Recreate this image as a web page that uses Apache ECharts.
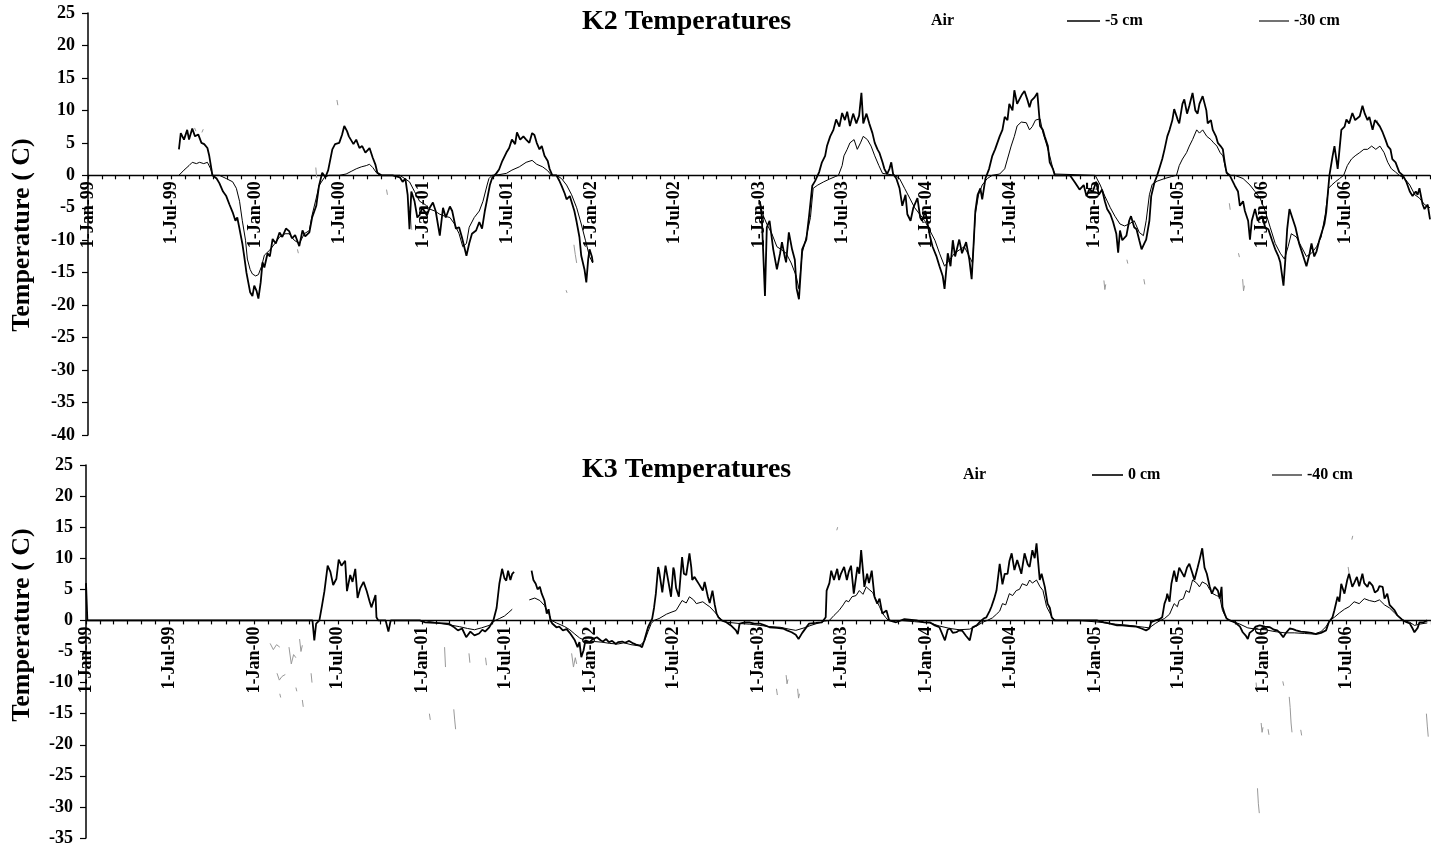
<!DOCTYPE html>
<html>
<head>
<meta charset="utf-8">
<title>K2 / K3 Temperatures</title>
<script src="https://cdn.jsdelivr.net/npm/echarts@6/dist/echarts.min.js"></script>
<style>
  html, body { margin: 0; padding: 0; background: #fff; }
  #chart { width: 1431px; height: 851px; }
</style>
</head>
<body>
<div id="chart"></div>
<script>
// ---------- K2 site: daily soil temperatures (°C), null = logger gap ----------
const k2Soil5 = [
['1999-07-18',4],['1999-07-22',6.5],['1999-07-29',5.5],['1999-08-05',7],['1999-08-09',5.5],['1999-08-16',7.2],['1999-08-22',6],['1999-08-29',6.3],['1999-09-05',5],['1999-09-11',4.8],['1999-09-18',4.2],['1999-09-22',3],['1999-09-29',0],
['1999-10-08',-0.5],['1999-10-14',-1.2],['1999-10-22',-2.5],['1999-10-29',-3.2],['1999-11-05',-4.5],['1999-11-12',-5.7],['1999-11-18',-7],['1999-11-22',-6.5],['1999-11-27',-8.3],['1999-12-03',-10.5],['1999-12-07',-12.4],['1999-12-12',-15],['1999-12-16',-16.5],['1999-12-20',-18],['1999-12-25',-18.6],['1999-12-29',-17],
['2000-01-03',-17.8],['2000-01-07',-19],['2000-01-12',-16.5],['2000-01-16',-13.4],['2000-01-20',-14.2],['2000-01-27',-12],['2000-02-01',-12.5],['2000-02-07',-9.8],['2000-02-14',-10.5],['2000-02-22',-8.8],['2000-02-28',-9.5],['2000-03-07',-8.2],['2000-03-14',-8.6],['2000-03-20',-9.7],['2000-03-27',-9.2],['2000-04-05',-10.9],['2000-04-12',-8.5],['2000-04-18',-9.4],['2000-04-27',-8.8],['2000-05-03',-6.5],['2000-05-12',-4.7],['2000-05-18',-1.6],['2000-05-25',0.4],['2000-06-01',-0.3],['2000-06-07',0.8],['2000-06-16',4],['2000-06-22',4.8],['2000-07-01',5],['2000-07-07',6.2],['2000-07-12',7.6],['2000-07-18',6.8],['2000-07-22',6],['2000-08-01',4.8],['2000-08-07',5.5],['2000-08-14',4.2],['2000-08-20',4.5],['2000-08-27',3.5],['2000-09-05',4.2],['2000-09-12',2.7],['2000-09-18',1.6],['2000-09-22',0.4],['2000-10-01',0],
['2000-10-25',0],['2000-11-10',-0.3],['2000-11-16',-1],['2000-11-22',-0.5],['2000-11-27',-3],['2000-12-01',-8.3],['2000-12-05',-2.5],['2000-12-12',-4],['2000-12-18',-6.5],['2000-12-23',-6.1],['2000-12-29',-5],
['2001-01-08',-6.2],['2001-01-14',-5],['2001-01-21',-4.2],['2001-01-27',-5.5],['2001-02-05',-9.3],['2001-02-12',-5],['2001-02-18',-6.5],['2001-02-27',-4.8],['2001-03-04',-5.5],['2001-03-12',-8.2],['2001-03-19',-8],['2001-03-25',-9.5],['2001-04-04',-12.4],['2001-04-10',-10.5],['2001-04-16',-9],['2001-04-25',-8.5],['2001-05-02',-7.2],['2001-05-08',-8.2],['2001-05-14',-5.5],['2001-05-19',-3.7],['2001-05-25',-1.5],['2001-05-30',-0.4],['2001-06-08',0.3],['2001-06-14',0.9],['2001-06-21',2.2],['2001-06-30',3.5],['2001-07-06',4.2],['2001-07-12',5.5],['2001-07-19',4.8],['2001-07-23',6.6],['2001-07-30',5.5],['2001-08-06',6],['2001-08-12',5.5],['2001-08-19',5],['2001-08-25',6.5],['2001-08-30',6.2],['2001-09-04',5],['2001-09-10',4],['2001-09-15',4.5],['2001-09-21',3],['2001-09-28',2.2],['2001-10-02',1],['2001-10-08',0],
['2001-10-17',0],['2001-10-23',-0.8],['2001-10-28',-1.6],['2001-11-04',-2.8],['2001-11-08',-3.7],['2001-11-15',-3.2],['2001-11-19',-4.1],['2001-11-25',-5.5],['2001-11-30',-7.2],['2001-12-06',-9.5],['2001-12-10',-12.4],['2001-12-17',-14.5],['2001-12-21',-16.5],['2001-12-25',-13],['2001-12-28',-11.4],['2002-01-02',-12.5],['2002-01-04',-13.4],
null,
['2003-01-03',-4],['2003-01-07',-6.3],['2003-01-14',-18.6],['2003-01-18',-8],['2003-01-24',-7],['2003-02-01',-11.4],['2003-02-09',-14.5],['2003-02-16',-12],['2003-02-20',-10.3],['2003-02-26',-12.5],['2003-03-01',-13.4],['2003-03-07',-8.8],['2003-03-14',-11.4],['2003-03-20',-13],['2003-03-24',-17.5],['2003-03-29',-19.1],['2003-04-05',-11.4],['2003-04-14',-9.9],['2003-04-20',-6.3],['2003-04-27',-1.6],['2003-05-03',-0.9],['2003-05-12',0.5],['2003-05-18',2],['2003-05-25',3],['2003-05-29',4.5],['2003-06-05',6],['2003-06-12',7],['2003-06-18',8.6],['2003-06-25',7.5],['2003-07-01',9.6],['2003-07-07',8.5],['2003-07-12',9.8],['2003-07-18',7.6],['2003-07-25',9.5],['2003-08-01',8],['2003-08-07',9.2],['2003-08-12',12.7],['2003-08-16',8],['2003-08-23',9.5],['2003-08-29',8],['2003-09-05',6.5],['2003-09-10',5],['2003-09-16',4],['2003-09-20',3.5],['2003-09-27',2],['2003-10-01',1],['2003-10-07',0.2],['2003-10-12',1],['2003-10-16',2],['2003-10-20',0.2],['2003-10-27',-0.5],['2003-11-03',-2],['2003-11-09',-4.7],['2003-11-16',-3],['2003-11-20',-6],['2003-11-27',-7],['2003-12-03',-5],['2003-12-12',-3.5],['2003-12-18',-6.5],['2003-12-22',-7],['2003-12-29',-5.5],
['2004-01-08',-9.3],['2004-01-14',-11],['2004-01-22',-12.4],['2004-01-29',-14],['2004-02-05',-15.5],['2004-02-09',-17.5],['2004-02-16',-12],['2004-02-22',-14],['2004-02-27',-10],['2004-03-03',-12.5],['2004-03-12',-9.9],['2004-03-18',-12],['2004-03-27',-10.3],['2004-04-03',-13],['2004-04-08',-16],['2004-04-12',-11],['2004-04-16',-5.5],['2004-04-21',-3],['2004-04-27',-2],['2004-05-01',-3.7],['2004-05-08',-0.5],['2004-05-16',1],['2004-05-23',3],['2004-05-29',4],['2004-06-08',6],['2004-06-14',7],['2004-06-19',9],['2004-06-25',8.5],['2004-06-29',11],['2004-07-06',10],['2004-07-10',13.1],['2004-07-16',11],['2004-07-21',11.7],['2004-07-27',12.5],['2004-08-01',13],['2004-08-08',11.5],['2004-08-12',10.5],['2004-08-16',11.5],['2004-08-23',12],['2004-08-29',12.7],['2004-09-04',7.6],['2004-09-10',7],['2004-09-14',6],['2004-09-21',4.5],['2004-09-25',2],['2004-10-02',1],['2004-10-06',0],
['2004-11-08',0],['2004-11-19',-1.1],['2004-11-29',-2.2],['2004-12-08',-1.5],['2004-12-14',-3.2],['2004-12-21',-2],['2004-12-27',-2.7],['2005-01-04',-1],['2005-01-10',-3],['2005-01-17',-2.2],['2005-01-23',-4],['2005-01-28',-5.2],['2005-02-04',-6],['2005-02-10',-7.2],['2005-02-17',-9],['2005-02-21',-11.9],['2005-02-25',-8.5],['2005-03-02',-10],['2005-03-11',-9.3],['2005-03-17',-7],['2005-03-21',-6.3],['2005-03-28',-8],['2005-04-02',-8.3],['2005-04-08',-10],['2005-04-13',-11.4],['2005-04-19',-10.5],['2005-04-23',-9.9],['2005-04-30',-7],['2005-05-04',-3.2],['2005-05-11',-1.1],['2005-05-17',0],['2005-05-21',0.9],['2005-05-28',2.5],['2005-06-02',4],['2005-06-08',6],['2005-06-13',7],['2005-06-19',8.5],['2005-06-23',10.2],['2005-07-01',8.5],['2005-07-04',8],['2005-07-11',11],['2005-07-15',11.7],['2005-07-21',9.5],['2005-07-26',10.7],['2005-08-02',12.7],['2005-08-08',10],['2005-08-13',9.5],['2005-08-17',11],['2005-08-24',12.2],['2005-09-01',10],['2005-09-04',8],['2005-09-11',8.5],['2005-09-15',7],['2005-09-22',6],['2005-09-26',5],['2005-10-02',4.5],['2005-10-07',4],['2005-10-11',2],['2005-10-15',0.4],['2005-10-22',0],
['2005-11-02',-1.6],['2005-11-09',-2.5],['2005-11-13',-4.7],['2005-11-20',-4],['2005-11-24',-5.5],['2005-12-01',-7],['2005-12-05',-9.9],['2005-12-09',-7],['2005-12-16',-5.2],['2005-12-22',-7],['2006-01-01',-6.3],['2006-01-07',-8],['2006-01-14',-8.3],['2006-01-22',-10],['2006-01-29',-11.4],['2006-02-05',-12.5],['2006-02-09',-13.4],['2006-02-16',-17],['2006-02-20',-13],['2006-02-24',-8.3],['2006-03-01',-5.2],['2006-03-07',-6.5],['2006-03-14',-8],['2006-03-22',-10.5],['2006-03-29',-12],['2006-04-07',-14],['2006-04-14',-12],['2006-04-18',-10.5],['2006-04-24',-12.5],['2006-04-29',-11.7],['2006-05-05',-10],['2006-05-09',-9.9],['2006-05-16',-7.5],['2006-05-20',-5.7],['2006-05-27',0],['2006-06-03',3],['2006-06-07',4.5],['2006-06-14',1],['2006-06-18',4],['2006-06-22',7],['2006-06-29',7.5],['2006-07-03',8.6],['2006-07-09',8],['2006-07-16',9.6],['2006-07-22',8.5],['2006-08-01',9.1],['2006-08-07',10.7],['2006-08-12',9.5],['2006-08-18',8.5],['2006-08-22',9],['2006-08-29',7],['2006-09-03',8.5],['2006-09-09',8],['2006-09-14',7.5],['2006-09-20',6.6],['2006-09-26',5.5],['2006-10-01',4.5],['2006-10-07',4],['2006-10-11',2.5],['2006-10-18',2],['2006-10-26',0.5],['2006-11-03',0],['2006-11-11',-1.1],['2006-11-18',-2.5],['2006-11-24',-3.2],['2006-12-01',-2.5],['2006-12-05',-3],['2006-12-09',-2],['2006-12-16',-4.5],['2006-12-20',-5.2],['2006-12-27',-4.5],['2007-01-01',-6.8]
];

const k2Soil30 = [
['1999-07-18',0],['1999-07-29',0.8],['1999-08-09',1.5],['1999-08-16',2],['1999-08-25',1.8],['1999-09-01',2],['1999-09-10',1.8],['1999-09-18',2],['1999-09-25',1],['1999-09-29',0],['1999-10-14',0],['1999-10-29',-0.5],['1999-11-12',-1],['1999-11-20',-2],['1999-11-27',-4],['1999-12-03',-7],['1999-12-10',-10],['1999-12-14',-12.9],['1999-12-20',-14.5],['1999-12-25',-15.2],
['2000-01-01',-15.5],['2000-01-07',-15.3],['2000-01-14',-14],['2000-01-20',-12.3],['2000-02-01',-11.5],['2000-02-12',-10.5],['2000-02-22',-9.5],['2000-03-05',-9],['2000-03-14',-9],['2000-03-25',-10],['2000-04-05',-10.5],['2000-04-16',-9],['2000-04-27',-8.5],['2000-05-03',-6.1],['2000-05-12',-3.5],['2000-05-18',-1.6],['2000-05-30',-0.3],['2000-06-09',0],['2000-07-01',0],['2000-07-16',0.2],['2000-07-27',0.6],['2000-08-07',1],['2000-08-18',1.3],['2000-08-29',1.5],['2000-09-05',1.7],['2000-09-12',1.2],['2000-09-20',0.4],['2000-09-27',0],['2000-11-10',0],['2000-12-01',-1],['2000-12-12',-2.5],['2000-12-23',-4],
['2001-01-04',-4.5],['2001-01-14',-5.2],['2001-01-25',-5.5],['2001-02-05',-6],['2001-02-16',-6.3],['2001-02-27',-6.5],['2001-03-09',-7.5],['2001-03-19',-9],['2001-03-27',-11],['2001-04-04',-10.5],['2001-04-10',-8],['2001-04-21',-6.5],['2001-05-02',-5.5],['2001-05-10',-4],['2001-05-19',-1.5],['2001-05-23',-0.5],['2001-05-30',0],['2001-06-14',0.1],['2001-06-30',0.3],['2001-07-12',0.8],['2001-07-28',1.3],['2001-08-12',2],['2001-08-25',2.3],['2001-09-04',1.7],['2001-09-17',1.3],['2001-09-28',0.7],['2001-10-06',0],['2001-10-17',0],['2001-10-28',-0.5],['2001-11-08',-1.5],['2001-11-19',-3],['2001-11-30',-5],['2001-12-10',-7.5],['2001-12-19',-10],['2001-12-28',-12.5],['2002-01-04',-13.5],
null,
['2003-01-03',-4],['2003-01-09',-6],['2003-01-18',-7.5],['2003-01-29',-9],['2003-02-09',-11],['2003-02-20',-11.5],['2003-03-01',-12],['2003-03-12',-13.5],['2003-03-23',-15.5],['2003-03-29',-17.5],['2003-04-05',-12],['2003-04-14',-9.5],['2003-04-23',-6.5],['2003-04-29',-2],['2003-05-09',-1.5],['2003-05-22',-1],['2003-06-03',-0.6],['2003-06-16',-0.2],['2003-06-23',0],['2003-07-01',1.5],['2003-07-05',3],['2003-07-12',4],['2003-07-18',5],['2003-07-27',5.5],['2003-08-03',4],['2003-08-10',5],['2003-08-16',6],['2003-08-25',5.5],['2003-09-02',4.5],['2003-09-10',3],['2003-09-19',1.5],['2003-09-27',0.3],['2003-10-01',0],['2003-10-24',0],['2003-11-03',-0.5],['2003-11-14',-2],['2003-11-25',-3.5],['2003-12-06',-5],['2003-12-17',-6],['2003-12-28',-7],
['2004-01-08',-8.5],['2004-01-19',-10],['2004-01-29',-12],['2004-02-09',-14],['2004-02-20',-13],['2004-03-02',-12],['2004-03-12',-11.5],['2004-03-23',-11],['2004-04-03',-12.5],['2004-04-10',-13.5],['2004-04-16',-6],['2004-04-23',-3],['2004-05-01',-1.5],['2004-05-12',-0.5],['2004-05-23',0],['2004-06-08',0.2],['2004-06-19',1],['2004-06-25',2.5],['2004-07-03',4.5],['2004-07-10',6],['2004-07-16',7.6],['2004-07-25',8.2],['2004-08-05',8.1],['2004-08-12',7],['2004-08-18',7.5],['2004-08-25',8.5],['2004-09-04',8.7],['2004-09-10',6.6],['2004-09-17',5],['2004-09-25',3],['2004-10-02',1],['2004-10-06',0.2],['2004-10-10',0],
['2005-01-02',0],['2005-01-13',-1.5],['2005-01-23',-3.2],['2005-02-04',-5],['2005-02-14',-6.3],['2005-02-25',-7.5],['2005-03-07',-7.8],['2005-03-17',-7.5],['2005-03-28',-7],['2005-04-08',-8.8],['2005-04-17',-9.3],['2005-04-23',-7],['2005-04-30',-3],['2005-05-06',-1.4],['2005-05-17',-0.9],['2005-06-02',-0.5],['2005-06-17',-0.2],['2005-06-28',0],['2005-07-04',1.5],['2005-07-11',2.5],['2005-07-20',3.5],['2005-07-26',4.5],['2005-08-02',5.5],['2005-08-11',7],['2005-08-17',6.5],['2005-08-24',7],['2005-09-02',6],['2005-09-11',5.5],['2005-09-17',5],['2005-09-24',4.5],['2005-10-01',3.5],['2005-10-07',3],['2005-10-13',1],['2005-10-18',0],
['2005-11-02',0],['2005-11-20',-0.5],['2005-12-05',-1.5],['2005-12-16',-2.5],['2005-12-27',-3.5],['2006-01-07',-5.5],['2006-01-18',-8],['2006-01-29',-10.5],['2006-02-09',-12],['2006-02-18',-12.9],['2006-02-26',-11],['2006-03-05',-9],['2006-03-16',-9.5],['2006-03-27',-11],['2006-04-07',-12.5],['2006-04-18',-12],['2006-04-29',-11],['2006-05-09',-9.5],['2006-05-18',-6],['2006-05-25',-2],['2006-06-01',-1.5],['2006-06-09',-1],['2006-06-18',-0.5],['2006-06-27',0],['2006-07-05',1.5],['2006-07-14',2.5],['2006-07-22',3],['2006-08-01',3.5],['2006-08-10',4],['2006-08-18',4],['2006-08-27',4.5],['2006-09-05',4],['2006-09-14',4.5],['2006-09-23',3.5],['2006-10-01',2],['2006-10-09',1],['2006-10-18',0.5],['2006-10-26',0],['2006-11-07',-0.5],['2006-11-18',-1.5],['2006-11-29',-3],['2006-12-09',-3.5],['2006-12-20',-4.5],['2007-01-01',-5]
];

// K2 air sensor: only scattered short records survive
const k2Air = [
['1999-08-21',7.3],['1999-08-24',6.8],null,['1999-09-06',6.6],['1999-09-09',7.1],null,
['2000-04-01',-11.4],['2000-04-03',-12],null,['2000-05-11',1.2],['2000-05-13',-0.4],null,
['2000-06-26',11.6],['2000-06-28',10.8],null,['2000-10-12',-2.2],['2000-10-14',-3],null,
['2000-12-02',-4.8],['2000-12-04',-7],['2000-12-06',-8.4],null,
['2001-11-07',-17.7],['2001-11-09',-18.1],null,['2001-11-24',-10.7],['2001-11-27',-12.2],['2001-11-30',-13.5],null,
['2005-01-21',-16.2],['2005-01-23',-17.6],['2005-01-25',-16.8],null,['2005-03-12',-13],['2005-03-14',-13.6],null,
['2005-04-18',-16],['2005-04-20',-16.8],null,['2005-10-21',-4.3],['2005-10-23',-5.3],null,
['2005-11-10',-12],['2005-11-12',-12.6],null,['2005-11-19',-16],['2005-11-21',-17.8],['2005-11-23',-17],null,
['2006-09-08',8.5],['2006-09-10',7.7]
];

// ---------- K3 site ----------
const k3Soil0 = [
['1999-01-01',6],['1999-01-04',0],['2000-05-07',0],['2000-05-11',-3.2],['2000-05-15',-0.5],['2000-05-22',0],['2000-05-28',2.5],['2000-06-02',4.7],['2000-06-09',8.8],['2000-06-15',7.8],['2000-06-21',5.7],['2000-06-28',6.7],['2000-07-03',9.8],['2000-07-09',8.8],['2000-07-17',9.6],['2000-07-21',4.7],['2000-07-28',7.3],['2000-08-02',6.2],['2000-08-08',8.3],['2000-08-13',3.6],['2000-08-19',5.2],['2000-08-26',6.2],['2000-09-02',4.7],['2000-09-08',3.1],['2000-09-12',2.1],['2000-09-21',4.1],['2000-09-23',0.5],['2000-09-27',0],
['2000-10-13',0],['2000-10-19',-1.8],['2000-10-24',0],['2000-12-26',0],['2001-01-07',-0.3],['2001-01-28',-0.4],['2001-02-26',-0.5],['2001-03-09',-1],['2001-03-19',-1.6],['2001-03-28',-1.3],['2001-04-06',-2.7],['2001-04-15',-1.8],['2001-04-24',-2.4],['2001-05-04',-2.1],['2001-05-11',-1.5],['2001-05-17',-1.8],['2001-05-26',-1.1],['2001-06-04',0],['2001-06-11',2],['2001-06-17',5.9],['2001-06-23',8.3],['2001-06-28',6.8],['2001-07-02',6.4],['2001-07-06',8],['2001-07-11',6.5],['2001-07-15',7.5],['2001-07-19',7.8],
null,
['2001-08-26',8],['2001-08-30',6.5],['2001-09-04',5.9],['2001-09-08',5],['2001-09-13',5.4],['2001-09-17',4.3],['2001-09-21',4.6],['2001-09-23',3.2],['2001-09-28',1.1],['2001-10-02',1.8],['2001-10-06',0],['2001-10-10',-0.5],['2001-10-19',-1.1],['2001-10-25',-1],['2001-11-02',-1.6],['2001-11-10',-1.4],['2001-11-17',-2],['2001-11-21',-1.7],['2001-11-28',-3.2],['2001-12-04',-4.3],['2001-12-08',-3.5],['2001-12-12',-5.9],['2001-12-17',-4.8],['2001-12-21',-3.2],['2001-12-30',-3.5],
['2002-01-06',-3],['2002-01-15',-2.7],['2002-01-23',-3.2],['2002-01-28',-3.4],['2002-02-04',-3],['2002-02-10',-3.5],['2002-02-17',-3.3],['2002-02-25',-3.8],['2002-03-02',-3.5],['2002-03-11',-3.4],['2002-03-17',-3.6],['2002-03-26',-3.3],['2002-04-04',-3.7],['2002-04-10',-3.9],['2002-04-17',-4],['2002-04-23',-4.3],['2002-04-28',-3.2],['2002-05-02',-3],['2002-05-06',-1.1],['2002-05-10',-1],['2002-05-15',0.3],['2002-05-19',2],['2002-05-23',4.3],['2002-05-28',8.6],['2002-05-30',8],['2002-06-04',5.5],['2002-06-06',4.5],['2002-06-13',8.8],['2002-06-17',9.1],['2002-06-21',5.5],['2002-06-25',3.8],['2002-06-30',8.5],['2002-07-02',8],['2002-07-06',5.2],['2002-07-12',3.8],['2002-07-19',10.2],['2002-07-23',7.5],['2002-07-28',7.3],['2002-08-04',10.8],['2002-08-08',8.5],['2002-08-10',6.5],['2002-08-15',7],['2002-08-19',6.5],['2002-08-25',5.8],['2002-09-02',4.8],['2002-09-06',6.2],['2002-09-13',3.8],['2002-09-17',2.8],['2002-09-23',4.8],['2002-09-28',2.5],['2002-10-02',1.1],['2002-10-06',0.5],['2002-10-13',0],
['2002-10-23',-0.3],['2002-11-02',-0.8],['2002-11-06',-1.1],['2002-11-13',-1.6],['2002-11-17',-2.2],['2002-11-21',-0.5],['2002-12-02',-0.3],['2002-12-12',-0.3],['2002-12-23',-0.5],['2003-01-04',-0.5],['2003-01-15',-0.8],['2003-01-25',-1.1],['2003-02-10',-1.2],['2003-02-23',-1.3],['2003-03-04',-1.6],['2003-03-14',-1.9],['2003-03-23',-2.3],['2003-03-29',-3],['2003-04-06',-2],['2003-04-10',-1.6],['2003-04-16',-1],['2003-04-21',-0.5],['2003-05-06',-0.4],['2003-05-19',-0.3],['2003-05-27',0.5],['2003-05-29',4.8],['2003-06-04',6],['2003-06-08',8],['2003-06-14',6.5],['2003-06-21',8.3],['2003-06-25',6.5],['2003-06-29',7.5],['2003-07-06',8.6],['2003-07-12',6.5],['2003-07-16',7.8],['2003-07-21',8.8],['2003-07-27',4.3],['2003-08-04',8.6],['2003-08-08',7.5],['2003-08-12',11.3],['2003-08-19',5.4],['2003-08-25',7.5],['2003-08-29',6],['2003-09-04',8],['2003-09-10',3.8],['2003-09-16',2.7],['2003-09-21',3.5],['2003-09-27',1.1],['2003-10-06',1.6],['2003-10-12',0],
['2003-10-27',-0.3],['2003-11-14',0.2],['2003-12-10',0],['2003-12-27',-0.3],['2004-01-08',-0.3],['2004-01-19',-0.8],['2004-01-29',-1.1],['2004-02-10',-3.2],['2004-02-16',-1.5],['2004-02-21',-1.3],['2004-02-27',-2],['2004-03-06',-1.9],['2004-03-12',-1.6],['2004-03-19',-1.7],['2004-03-27',-2.5],['2004-04-04',-3.2],['2004-04-10',-1.1],['2004-04-19',-0.8],['2004-04-25',-0.3],['2004-05-04',0.3],['2004-05-10',0.5],['2004-05-17',1.5],['2004-05-21',2.2],['2004-05-27',3.5],['2004-06-01',4.8],['2004-06-08',9.1],['2004-06-14',5.8],['2004-06-19',7.5],['2004-06-25',7.5],['2004-06-29',9.5],['2004-07-04',10.8],['2004-07-10',8.1],['2004-07-16',9.7],['2004-07-21',8.5],['2004-07-25',7.5],['2004-08-01',10.8],['2004-08-08',9],['2004-08-12',8.6],['2004-08-18',11.3],['2004-08-23',10],['2004-08-27',12.4],['2004-09-03',6.5],['2004-09-07',7.5],['2004-09-14',5.4],['2004-09-20',2.7],['2004-09-25',2],['2004-09-29',0.5],['2004-10-05',0],
['2004-11-08',0],['2004-12-10',0],['2005-01-05',0],['2005-01-21',-0.3],['2005-02-03',-0.5],['2005-02-18',-0.8],['2005-03-01',-0.8],['2005-03-16',-0.9],['2005-04-01',-1],['2005-04-12',-1.3],['2005-04-22',-1.6],['2005-04-29',-1.3],['2005-05-03',-0.3],['2005-05-12',0],['2005-05-21',0.2],['2005-05-27',0.5],['2005-06-01',2.7],['2005-06-05',3.5],['2005-06-07',4.3],['2005-06-12',3],['2005-06-16',5.9],['2005-06-22',8],['2005-06-27',6.2],['2005-06-29',6.5],['2005-07-03',8.5],['2005-07-07',8.6],['2005-07-14',7],['2005-07-20',8.5],['2005-07-25',9.1],['2005-08-01',7.5],['2005-08-05',6.5],['2005-08-12',8.5],['2005-08-16',9.7],['2005-08-22',11.6],['2005-08-27',8.5],['2005-09-01',7.5],['2005-09-07',5.5],['2005-09-12',4.3],['2005-09-18',5.4],['2005-09-25',4.8],['2005-09-29',3.5],['2005-10-03',5.4],['2005-10-05',2.2],['2005-10-10',1],['2005-10-14',0.3],['2005-10-21',0],
['2005-11-01',-0.3],['2005-11-12',-1],['2005-11-18',-1.9],['2005-11-25',-2.5],['2005-11-29',-3],['2005-12-03',-2],['2005-12-10',-1.6],['2005-12-16',-1],['2005-12-25',-0.8],['2006-01-05',-1],['2006-01-16',-1.1],['2006-01-25',-1.5],['2006-02-01',-1.6],['2006-02-07',-2],['2006-02-14',-2.7],['2006-02-20',-2],['2006-02-28',-1.3],['2006-03-07',-1.4],['2006-03-14',-1.6],['2006-03-24',-1.8],['2006-04-05',-1.9],['2006-04-16',-2],['2006-04-26',-2.2],['2006-05-07',-2],['2006-05-18',-1.6],['2006-05-24',-0.3],['2006-06-01',0.5],['2006-06-05',1.6],['2006-06-12',3.8],['2006-06-16',3],['2006-06-20',5.9],['2006-06-27',4.3],['2006-07-03',6.5],['2006-07-07',7.5],['2006-07-14',5.4],['2006-07-18',6],['2006-07-24',7],['2006-07-29',5.5],['2006-08-05',7.5],['2006-08-09',6],['2006-08-16',5.4],['2006-08-20',6.2],['2006-08-27',5.6],['2006-09-01',4.5],['2006-09-07',4.8],['2006-09-11',5.5],['2006-09-18',5.4],['2006-09-22',3.5],['2006-09-28',4.3],['2006-10-03',2.5],['2006-10-07',2.2],['2006-10-14',1.6],['2006-10-20',0.8],['2006-10-24',0.5],['2006-11-01',0],['2006-11-09',-0.3],['2006-11-16',-0.5],['2006-11-22',-1.3],['2006-11-26',-1.9],['2006-12-03',-1.2],['2006-12-07',-0.3],['2006-12-16',-0.3],['2006-12-24',0]
];

const k3Soil40 = [
['2001-01-07',0],['2001-01-17',-0.2],['2001-02-19',-0.6],['2001-03-22',-1],['2001-04-09',-1.3],['2001-04-24',-1.5],['2001-05-09',-1.2],['2001-05-26',-0.8],['2001-06-08',0],['2001-06-17',0.3],['2001-06-28',0.7],['2001-07-06',1.2],['2001-07-15',1.8],
null,
['2001-08-21',3.3],['2001-09-02',3.6],['2001-09-13',3.2],['2001-09-23',2.4],['2001-10-02',1.2],['2001-10-08',0],['2001-10-19',-0.4],['2001-11-06',-1],['2001-11-17',-1.5],['2001-11-28',-2.2],['2001-12-08',-2.8],['2001-12-19',-3.2],['2001-12-30',-3.6],
['2002-01-10',-3.4],['2002-01-26',-3.5],['2002-02-12',-3.7],['2002-03-01',-3.8],['2002-03-15',-3.6],['2002-03-30',-3.9],['2002-04-17',-4.1],['2002-04-28',-3.4],['2002-05-06',-1.8],['2002-05-13',-0.5],['2002-05-19',0],['2002-05-30',0.3],['2002-06-15',1],['2002-06-25',1.3],['2002-07-06',1.6],['2002-07-19',3.2],['2002-07-28',2.8],['2002-08-04',3.8],['2002-08-13',3.3],['2002-08-19',2.7],['2002-09-02',3],['2002-09-11',2.5],['2002-09-17',2.2],['2002-09-26',1.5],['2002-10-02',1],['2002-10-13',0],
['2002-10-25',-0.3],['2002-11-21',-0.5],['2002-12-12',-0.6],['2003-01-04',-0.8],['2003-01-25',-1],['2003-02-17',-1.1],['2003-03-08',-1.4],['2003-03-23',-1.6],['2003-04-10',-1.2],['2003-04-25',-0.8],['2003-05-12',-0.4],['2003-05-25',-0.1],['2003-06-04',0],['2003-06-14',0.8],['2003-06-25',1.6],['2003-07-04',2.5],['2003-07-10',3.2],['2003-07-16',3],['2003-07-23',3.8],['2003-08-01',4],['2003-08-08',4.8],['2003-08-16',4.2],['2003-08-23',5.4],['2003-08-29',5],['2003-09-06',4.5],['2003-09-12',3.5],['2003-09-21',2.2],['2003-09-27',1.2],['2003-10-04',0.5],['2003-10-10',0],
['2003-11-04',0],['2003-12-06',-0.2],['2004-01-08',-0.4],['2004-01-29',-0.9],['2004-02-21',-1.3],['2004-03-12',-1.5],['2004-04-04',-1.4],['2004-04-19',-0.9],['2004-05-02',-0.3],['2004-05-12',0],['2004-05-23',0.4],['2004-06-01',1],['2004-06-08',1.5],['2004-06-14',2.7],['2004-06-21',2.5],['2004-06-29',4.3],['2004-07-06',4],['2004-07-14',4.8],['2004-07-21',5],['2004-07-27',5.9],['2004-08-06',5.6],['2004-08-12',6.5],['2004-08-18',6],['2004-08-27',6.5],['2004-09-03',5.5],['2004-09-10',4.8],['2004-09-18',2.2],['2004-09-25',1.2],['2004-10-01',0.3],['2004-10-08',0],
['2004-11-29',0],['2005-01-12',-0.3],['2005-02-14',-0.6],['2005-03-16',-0.8],['2005-04-18',-1.1],['2005-04-29',-1.2],['2005-05-12',-0.5],['2005-05-23',0],['2005-06-01',0.3],['2005-06-12',1],['2005-06-22',2.7],['2005-06-29',2.2],['2005-07-03',3.2],['2005-07-12',3.5],['2005-07-18',4.8],['2005-07-25',4.5],['2005-08-01',6.5],['2005-08-10',6],['2005-08-16',5.4],['2005-08-22',6.2],['2005-09-01',5.8],['2005-09-07',5],['2005-09-14',4.3],['2005-09-22',4],['2005-09-29',3.8],['2005-10-05',1.6],['2005-10-14',0.3],['2005-10-21',0],
['2005-11-12',-0.6],['2005-11-29',-1.2],['2005-12-16',-1.4],['2006-01-05',-1.5],['2006-01-27',-1.8],['2006-02-18',-2],['2006-03-10',-2],['2006-04-01',-2.1],['2006-04-22',-2.2],['2006-05-07',-1.8],['2006-05-18',-1],['2006-05-26',0],['2006-06-05',0.5],['2006-06-16',1.2],['2006-06-27',1.8],['2006-07-07',2.2],['2006-07-18',3],['2006-07-29',2.7],['2006-08-09',3.5],['2006-08-20',3.2],['2006-09-01',3],['2006-09-11',3.3],['2006-09-22',2.5],['2006-10-03',2],['2006-10-14',1.2],['2006-10-24',0.5],['2006-11-03',0],['2006-11-16',-0.3],['2006-11-26',-0.8],['2006-12-07',-0.6],['2006-12-24',-0.4]
];

const k3Air = [
['2000-02-05',-3.7],['2000-02-12',-4.7],['2000-02-19',-3.9],['2000-02-26',-4.3],null,
['2000-02-20',-8.5],['2000-02-25',-9.6],['2000-03-02',-9],['2000-03-09',-8.7],null,
['2000-02-26',-11.8],['2000-02-28',-12.4],null,
['2000-03-17',-4.3],['2000-03-22',-7],['2000-03-27',-5.5],['2000-04-01',-6],null,
['2000-04-01',-10.8],['2000-04-03',-11.4],null,
['2000-04-09',-3],['2000-04-12',-5],['2000-04-15',-4],null,
['2000-04-15',-12.8],['2000-04-17',-13.9],null,
['2000-05-04',-8.5],['2000-05-06',-10],null,
['2001-01-16',-15],['2001-01-18',-16],null,
['2001-02-18',-4.3],['2001-02-20',-7.5],null,
['2001-03-10',-14.3],['2001-03-12',-16],['2001-03-14',-17.5],null,
['2001-04-12',-5.3],['2001-04-14',-6.8],null,
['2001-05-18',-6],['2001-05-20',-7.2],null,
['2001-11-21',-5.3],['2001-11-25',-7.5],['2001-11-29',-6],['2001-12-02',-7],null,
['2003-02-09',-11],['2003-02-11',-12],null,
['2003-03-02',-8.8],['2003-03-04',-10.2],['2003-03-06',-9.5],null,
['2003-03-27',-11],['2003-03-29',-12.5],['2003-03-31',-11.8],null,
['2003-06-20',14.5],['2003-06-22',15],null,
['2005-12-17',-10],['2005-12-18',-10.8],null,
['2005-12-20',-27],['2005-12-22',-29.5],['2005-12-24',-31],null,
['2005-12-28',-16.5],['2005-12-30',-18],['2006-01-01',-17.2],null,
['2006-01-12',-17.5],['2006-01-14',-18.4],null,
['2006-02-13',-9.8],['2006-02-15',-10.5],null,
['2006-02-27',-12.3],['2006-03-01',-14],['2006-03-03',-16.5],['2006-03-05',-18],null,
['2006-03-24',-17.6],['2006-03-26',-18.5],null,
['2006-07-05',8.6],['2006-07-07',7.6],null,
['2006-07-13',13],['2006-07-15',13.6],null,
['2006-12-22',-15],['2006-12-24',-17],['2006-12-26',-18.7]
];

// Dated axis labels (first of January and July) and monthly tick marks
const labelDates = [
'1999-01-01','1999-07-01','2000-01-01','2000-07-01','2001-01-01','2001-07-01','2002-01-01','2002-07-01',
'2003-01-01','2003-07-01','2004-01-01','2004-07-01','2005-01-01','2005-07-01','2006-01-01','2006-07-01'
];
const axisStart = '1999-01-01';
const axisEnd = '2007-01-01';
const k2YTicks = { min: -40, max: 25, step: 5 };
const k3YTicks = { min: -35, max: 25, step: 5 };

// ---------- helpers ----------
const MONTHS = ['Jan','Feb','Mar','Apr','May','Jun','Jul','Aug','Sep','Oct','Nov','Dec'];
function toSeries(rows) {
  const out = [];
  let last = Date.parse(axisStart);
  rows.forEach(r => {
    if (r === null) { out.push([last, '-']); return; }
    last = Date.parse(r[0]);
    out.push([last, r[1]]);
  });
  return out;
}
const monthTicks = [];
for (let y = 1999; y <= 2006; y++) for (let m = 0; m < 12; m++) monthTicks.push(Date.UTC(y, m, 1));
monthTicks.push(Date.UTC(2007, 0, 1));
const labelTicks = labelDates.map(d => Date.parse(d));
function fmtDate(v) {
  const d = new Date(v);
  return d.getUTCDate() + '-' + MONTHS[d.getUTCMonth()] + '-' + String(d.getUTCFullYear() % 100).padStart(2, '0');
}

const SERIF = '"Liberation Serif", "Times New Roman", serif';
const bold = (size) => ({ fontFamily: SERIF, fontWeight: 'bold', fontSize: size, color: '#000' });

const gridBoxes = [
  { left: 88, right: 1, top: 13, height: 422 },
  { left: 86, right: 0, top: 465, height: 373 }
];

// The date axis sits on the 0 °C line: shift it up from the grid bottom
function xAxisFor(gridIndex, t) {
  const lift = gridBoxes[gridIndex].height * (0 - t.min) / (t.max - t.min);
  return {
    type: 'value', gridIndex,
    min: Date.parse(axisStart), max: Date.parse(axisEnd),
    position: 'bottom', offset: -lift,
    axisLine: { show: true, onZero: false, lineStyle: { color: '#000', width: 1.3 } },
    axisTick: { show: true, customValues: monthTicks, length: 4, lineStyle: { color: '#000', width: 1.2 } },
    axisLabel: { customValues: labelTicks, rotate: 90, margin: 6, formatter: fmtDate, ...bold(18) },
    splitLine: { show: false }
  };
}
function yAxisFor(gridIndex, t) {
  return {
    type: 'value', gridIndex, min: t.min, max: t.max, interval: t.step,
    axisLine: { show: true, onZero: false, lineStyle: { color: '#000', width: 1.5 } },
    axisTick: { show: true, length: 6, lineStyle: { color: '#000', width: 1.2 } },
    axisLabel: { margin: 13, ...bold(18) },
    splitLine: { show: false }
  };
}
function lineSeries(name, rows, axisIdx, color, width, z) {
  return {
    name, type: 'line', xAxisIndex: axisIdx, yAxisIndex: axisIdx,
    data: toSeries(rows), symbol: 'none', showSymbol: false, connectNulls: false, z,
    lineStyle: { color, width }, itemStyle: { color },
    emphasis: { disabled: true }
  };
}
function legendItem(name, left, top, itemWidth, swatch) {
  const item = swatch > 0
    ? { name, icon: 'rect', itemStyle: { color: '#000', borderWidth: 0 } }
    : { name, icon: 'rect', itemStyle: { color: 'rgba(0,0,0,0)', borderWidth: 0 } };
  return {
    left, top, padding: 0, itemWidth, itemHeight: swatch > 0 ? swatch : 1, itemGap: 0,
    selectedMode: false, data: [item], textStyle: bold(16)
  };
}

const chart = echarts.init(document.getElementById('chart'), null, { renderer: 'canvas' });
chart.setOption({
  animation: false,
  backgroundColor: '#fff',
  title: [
    { text: 'K2 Temperatures', left: 582, top: 8, padding: 0, textStyle: bold(28) },
    { text: 'K3 Temperatures', left: 582, top: 456, padding: 0, textStyle: bold(28) }
  ],
  legend: [
    legendItem('Air', 925, 13, 1, 0),
    legendItem('-5 cm', 1067, 13, 33, 1.6),
    legendItem('-30 cm', 1259, 13, 30, 1.1),
    legendItem('Air', 957, 467, 1, 0),
    legendItem('0 cm', 1092, 467, 31, 1.6),
    legendItem('-40 cm', 1272, 467, 30, 1.1)
  ],
  grid: gridBoxes,
  xAxis: [xAxisFor(0, k2YTicks), xAxisFor(1, k3YTicks)],
  yAxis: [yAxisFor(0, k2YTicks), yAxisFor(1, k3YTicks)],
  graphic: [
    { type: 'text', x: 22, y: 235, rotation: Math.PI / 2,
      style: { text: 'Temperature ( C)', font: 'bold 26px ' + SERIF, fill: '#000', textAlign: 'center', textVerticalAlign: 'middle' } },
    { type: 'text', x: 22, y: 625, rotation: Math.PI / 2,
      style: { text: 'Temperature ( C)', font: 'bold 26px ' + SERIF, fill: '#000', textAlign: 'center', textVerticalAlign: 'middle' } }
  ],
  series: [
    lineSeries('Air', k2Air, 0, '#999', 1, 1),
    lineSeries('-30 cm', k2Soil30, 0, '#000', 1, 2),
    lineSeries('-5 cm', k2Soil5, 0, '#000', 1.8, 3),
    lineSeries('Air', k3Air, 1, '#999', 1, 1),
    lineSeries('-40 cm', k3Soil40, 1, '#000', 1, 2),
    lineSeries('0 cm', k3Soil0, 1, '#000', 1.8, 3)
  ]
});
</script>
</body>
</html>
